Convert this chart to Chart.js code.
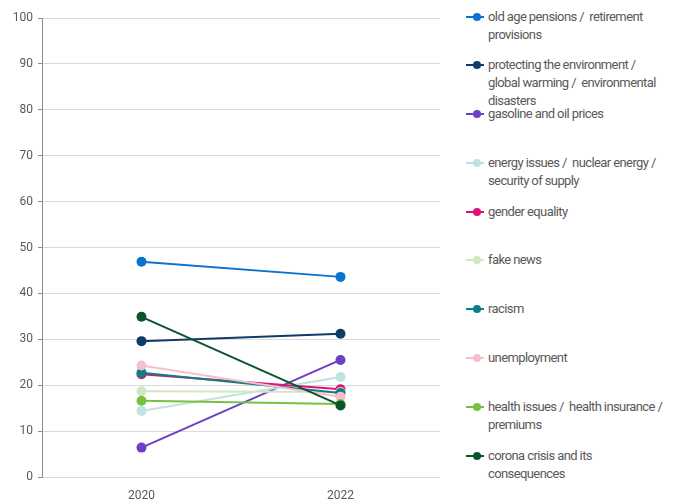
<!DOCTYPE html>
<html>
<head>
<meta charset="utf-8">
<script src="https://cdn.jsdelivr.net/npm/chart.js@4"></script>
<style>
    body { margin: 0; background: #fff; font-family: Roboto, "Liberation Sans", sans-serif; }
    .wrap { position: relative; width: 680px; height: 504px; }
    .chart_box { position: absolute; left: 0; top: 0; width: 445px; height: 504px; }
    .legend { position: absolute; left: 466px; top: 7.5px; width: 210px; margin: 0; padding: 0; list-style: none; }
    .legend li { height: 48.8px; display: flex; align-items: flex-start; }
    .legend .mark { position: relative; width: 18px; height: 18px; flex: none; margin-right: 4px; }
    .legend .mark i { position: absolute; left: 0; top: 8px; width: 18px; height: 2px; }
    .legend .mark b { position: absolute; left: 7px; top: 5px; width: 8px; height: 8px; border-radius: 50%; }
    .legend span { font-size: 13px; line-height: 18px; color: #595959; letter-spacing: -0.6px; white-space: pre-wrap; max-width: 180px; }
</style>
</head>
<body>
<div class="wrap">
    <div class="chart_box"><canvas id="myChart"></canvas></div>
    <ul class="legend" id="legend"></ul>
</div>
<script>
const years = ['2020', '2022'];

const seriesNames = [
    'old age pensions /  retirement provisions',
    'protecting the environment / global warming /  environmental disasters',
    'gasoline and oil prices',
    'energy issues /  nuclear energy / security of supply',
    'gender equality',
    'fake news',
    'racism',
    'unemployment',
    'health issues /  health insurance / premiums',
    'corona crisis and its consequences'
];

const seriesColors = ['#0a72d0', '#0f3a69', '#6a40c6', '#bfe3e0', '#de1378', '#d2e7c1', '#0e7e86', '#f6bfca', '#78c043', '#0a5430'];

const oldAge = [46.9, 43.6];
const environment = [29.6, 31.2];
const gasoline = [6.4, 25.5];
const energy = [14.4, 21.8];
const gender = [22.4, 19.1];
const fakeNews = [18.7, 18.5];
const racism = [22.7, 18.3];
const unemployment = [24.3, 17.5];
const health = [16.6, 15.9];
const corona = [34.9, 15.6];

const yTicks = [0, 10, 20, 30, 40, 50, 60, 70, 80, 90, 100];

const seriesValues = [oldAge, environment, gasoline, energy, gender, fakeNews, racism, unemployment, health, corona];

//chart

var ctx = document.getElementById('myChart').getContext('2d');
new Chart(ctx, {
    type: 'line',
    data: {
        labels: years,
        datasets: seriesValues.map((values, i) => ({
            label: seriesNames[i],
            data: values,
            borderColor: seriesColors[i],
            backgroundColor: seriesColors[i],
            borderWidth: 2,
            pointRadius: 5,
            pointHoverRadius: 5,
            pointBorderWidth: 0,
            order: -i,
        }))
    },
    options: {
        responsive: true,
        maintainAspectRatio: false,
        animation: false,
        layout: { padding: { top: 18, right: 4, left: 0, bottom: 0 } },
        plugins: {
            legend: { display: false },
            tooltip: { enabled: false },
        },
        scales: {
            x: {
                offset: true,
                grid: { display: false, drawTicks: false },
                border: { display: false },
                ticks: { color: '#595959', font: { family: 'Roboto', size: 12 }, padding: 12 },
                afterFit: (s) => { s.height = 27; },
            },
            y: {
                min: 0,
                max: 100,
                afterBuildTicks: (s) => { s.ticks = yTicks.map(v => ({ value: v })); },
                grid: { color: '#d9d9d9', lineWidth: 1, tickLength: 4, tickColor: '#8c8c8c' },
                border: { display: true, color: '#8c8c8c', width: 1 },
                ticks: { color: '#595959', font: { family: 'Roboto', size: 12 }, padding: 5 },
                afterFit: (s) => { s.width = 42; },
            }
        }
    }
});

//legend

const legend = document.getElementById('legend');
seriesNames.forEach((name, i) => {
    const li = document.createElement('li');
    li.innerHTML = '<div class="mark"><i style="background:' + seriesColors[i] + '"></i><b style="background:' + seriesColors[i] + '"></b></div><span></span>';
    li.querySelector('span').textContent = name;
    legend.appendChild(li);
});
</script>
</body>
</html>
